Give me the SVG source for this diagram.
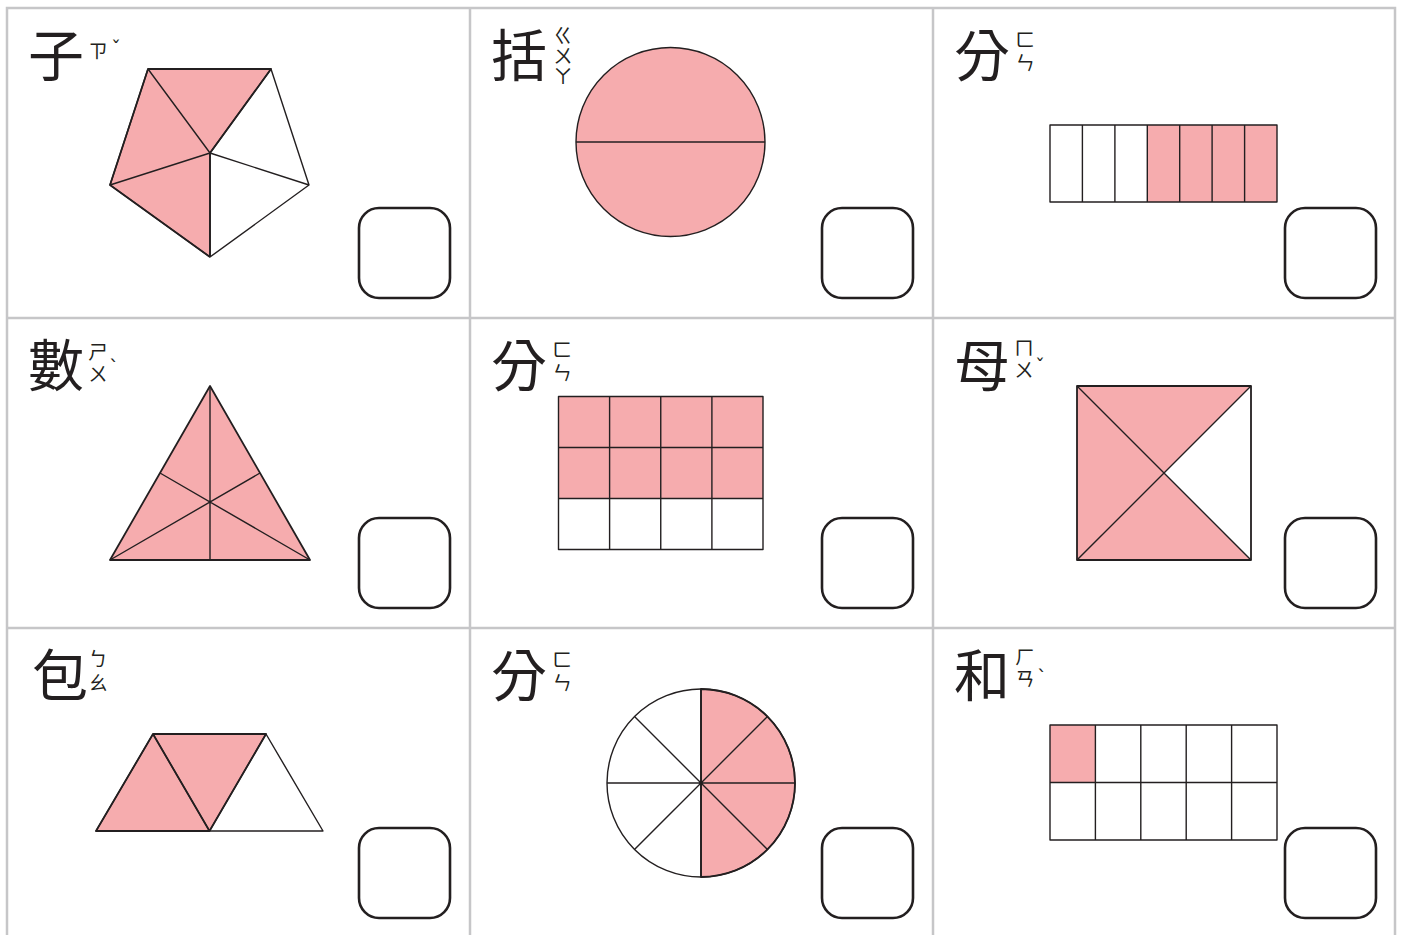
<svg xmlns="http://www.w3.org/2000/svg" width="1405" height="935" viewBox="0 0 1405 935">
<style>
.grid{fill:none;stroke:#c6c6c8;stroke-width:2.5}
.pk{fill:#f6acae}
.ln{fill:none;stroke:#231f20;stroke-width:1.4;stroke-linejoin:round}
.ol{fill:none;stroke:#231f20;stroke-width:1.8;stroke-linejoin:round}
.box{fill:#ffffff;stroke:#231f20;stroke-width:2.6}
.ch{font-family:"Noto Sans CJK TC","Noto Sans CJK SC",sans-serif;font-size:56px;fill:#231f20}
.bp{font-family:"Noto Sans CJK TC","Noto Sans CJK SC",sans-serif;font-size:19.5px;fill:#231f20;writing-mode:vertical-rl;text-orientation:upright}
.tn{font-family:"DejaVu Sans",sans-serif;font-size:20px;fill:#231f20}
</style>
<rect width="1405" height="935" fill="#ffffff"/>
<g id="grid">
<path class="grid" d="M7,936 V8 H1395 V936 M470,8 V936 M933,8 V936 M7,318 H1395 M7,628 H1395"/>
</g>
<g id="card-zi">
<text class="ch" x="28" y="76">子</text>
<text class="bp" x="98" y="41" font-size="22">ㄗ</text>
<text class="tn" x="111" y="55">ˇ</text>
<polygon class="pk" points="110,185 148,69 271,69 210,153 210,257"/>
<path class="ln" d="M110,185 L148,69 L271,69 L309,185 L210,257 Z M210,153 L148,69 M210,153 L271,69 M210,153 L309,185 M210,153 L210,257 M210,153 L110,185"/>
<path class="ol" d="M210,257 L110,185 L148,69 L271,69 L210,153 L210,257"/>
<rect class="box" x="359" y="208" width="91" height="90" rx="20"/>
</g>
<g id="card-kuo">
<text class="ch" x="491" y="76">括</text>
<text class="bp" x="563" y="26" font-size="16.5" letter-spacing="0.5">ㄍㄨㄚ</text>
<circle class="pk" cx="670.5" cy="142" r="94.5"/>
<circle class="ln" cx="670.5" cy="142" r="94.5"/>
<line class="ln" x1="576" y1="142" x2="765" y2="142"/>
<rect class="box" x="822" y="208" width="91" height="90" rx="20"/>
</g>
<g id="card-fen1">
<text class="ch" x="954" y="76">分</text>
<text class="bp" x="1025" y="30" letter-spacing="3">ㄈㄣ</text>
<rect class="pk" x="1147" y="125" width="130" height="77"/>
<path class="ln" d="M1050,125 H1277 V202 H1050 Z M1082.4,125 V202 M1114.9,125 V202 M1147.3,125 V202 M1179.7,125 V202 M1212.1,125 V202 M1244.6,125 V202"/>
<rect class="box" x="1285" y="208" width="91" height="90" rx="20"/>
</g>
<g id="card-shu">
<text class="ch" x="28" y="386">數</text>
<text class="bp" x="98" y="342" letter-spacing="2">ㄕㄨ</text>
<text class="tn" x="109" y="374">ˋ</text>
<polygon class="pk" points="210,386 110,560 310,560"/>
<path class="ln" d="M210,386 L210,560 M110,560 L260,473 M310,560 L160,473"/>
<polygon class="ol" points="210,386 110,560 310,560"/>
<rect class="box" x="359" y="518" width="91" height="90" rx="20"/>
</g>
<g id="card-fen2">
<text class="ch" x="491" y="386">分</text>
<text class="bp" x="562" y="340" letter-spacing="3">ㄈㄣ</text>
<rect class="pk" x="558.5" y="396.5" width="204.5" height="102"/>
<path class="ln" d="M558.5,396.5 H763 V549.5 H558.5 Z M558.5,447.5 H763 M558.5,498.5 H763 M609.6,396.5 V549.5 M660.75,396.5 V549.5 M711.9,396.5 V549.5"/>
<rect class="box" x="822" y="518" width="91" height="90" rx="20"/>
</g>
<g id="card-mu">
<text class="ch" x="954" y="386">母</text>
<text class="bp" x="1024" y="338" letter-spacing="2">ㄇㄨ</text>
<text class="tn" x="1035" y="373">ˇ</text>
<polygon class="pk" points="1077,386 1251,386 1164,473 1251,560 1077,560"/>
<path class="ln" d="M1077,386 L1251,560 M1251,386 L1077,560"/>
<rect class="ol" x="1077" y="386" width="174" height="174"/>
<rect class="box" x="1285" y="518" width="91" height="90" rx="20"/>
</g>
<g id="card-bao">
<text class="ch" x="32" y="696">包</text>
<text class="bp" x="98" y="649" letter-spacing="4">ㄅㄠ</text>
<polygon class="pk" points="96,831 153,734 266,734 209.5,831"/>
<path class="ln" d="M96,831 L153,734 L266,734 L323,831 Z M153,734 L209.5,831 L266,734"/>
<path class="ol" d="M209.5,831 L96,831 L153,734 L266,734 Z M153,734 L209.5,831"/>
<rect class="box" x="359" y="828" width="91" height="90" rx="20"/>
</g>
<g id="card-fen3">
<text class="ch" x="491" y="696">分</text>
<text class="bp" x="562" y="650" letter-spacing="3">ㄈㄣ</text>
<path class="pk" d="M701,783 L701,689 A94,94 0 0 1 701,877 Z"/>
<circle class="ln" cx="701" cy="783" r="94"/>
<path class="ln" d="M701,689 V877 M607,783 H795 M634.5,716.5 L767.5,849.5 M634.5,849.5 L767.5,716.5"/>
<path class="ol" d="M701,689 A94,94 0 0 1 701,877 Z"/>
<rect class="box" x="822" y="828" width="91" height="90" rx="20"/>
</g>
<g id="card-he">
<text class="ch" x="954" y="696">和</text>
<text class="bp" x="1025" y="647" letter-spacing="2">ㄏㄢ</text>
<text class="tn" x="1037" y="684">ˋ</text>
<rect class="pk" x="1050" y="725" width="45.4" height="57.5"/>
<path class="ln" d="M1050,725 H1277 V840 H1050 Z M1050,782.5 H1277 M1095.4,725 V840 M1140.8,725 V840 M1186.2,725 V840 M1231.6,725 V840"/>
<rect class="box" x="1285" y="828" width="91" height="90" rx="20"/>
</g>
</svg>
